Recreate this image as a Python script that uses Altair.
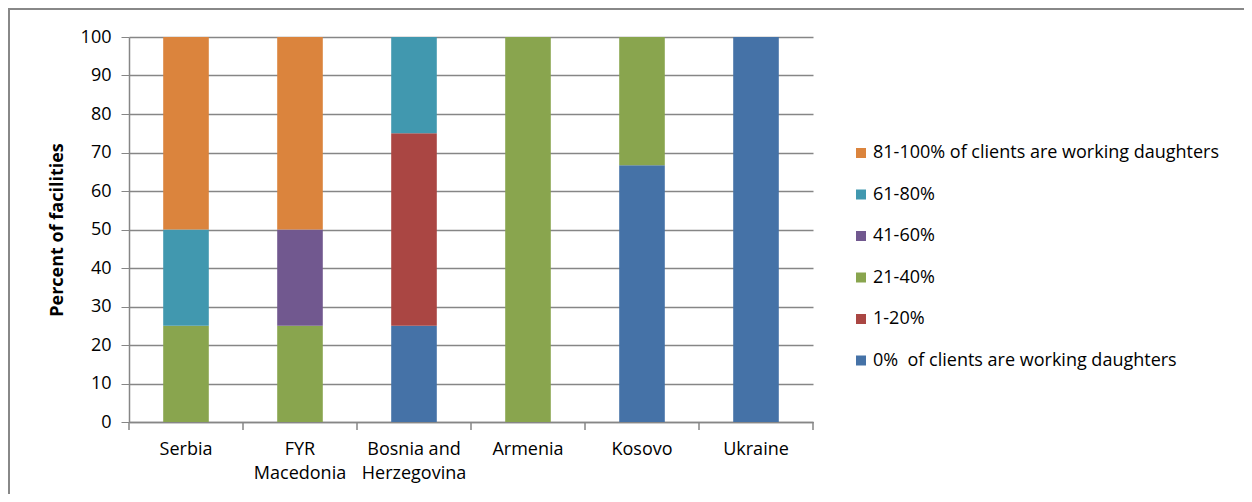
import altair as alt
import pandas as pd

categories = ["Serbia", "FYR\nMacedonia", "Bosnia and\nHerzegovina", "Armenia", "Kosovo", "Ukraine"]
series_names = [
    "0%\u00a0 of clients are working daughters",
    "1-20%",
    "21-40%",
    "41-60%",
    "61-80%",
    "81-100% of clients are working daughters",
]
s_0 = [0, 0, 25, 0, 66.7, 100]
s_1_20 = [0, 0, 50, 0, 0, 0]
s_21_40 = [25, 25, 0, 100, 33.3, 0]
s_41_60 = [0, 25, 0, 0, 0, 0]
s_61_80 = [25, 0, 25, 0, 0, 0]
s_81_100 = [50, 50, 0, 0, 0, 0]
series_values = [s_0, s_1_20, s_21_40, s_41_60, s_61_80, s_81_100]
colors = ["#4572A7", "#AA4643", "#89A54E", "#71588F", "#4198AF", "#DB843D"]

rows = []
for si, (name, vals) in enumerate(zip(series_names, series_values)):
    for c, v in zip(categories, vals):
        rows.append({"cat": c, "series": name, "value": v, "order": si})
df = pd.DataFrame(rows)

W, H = 684, 385
FONT = "Open Sans"
GRAY = "#868686"
FS = 18

xscale = alt.Scale(domain=categories, paddingInner=0, paddingOuter=0)

bars = alt.Chart(df).mark_bar(width=alt.RelativeBandSize(0.4)).encode(
    x=alt.X("cat:N", scale=xscale, sort=categories,
            axis=alt.Axis(title=None, labelAngle=0, ticks=False, domainColor=GRAY,
                          domainWidth=1.5, labelPadding=18, labelFontSize=FS,
                          labelLineHeight=24, labelColor="#000", labelFont=FONT,
                          labelExpr="split(datum.value, '\\n')")),
    y=alt.Y("value:Q", stack="zero", scale=alt.Scale(domain=[0, 100], nice=False),
            axis=alt.Axis(title="Percent of facilities", values=list(range(0, 101, 10)),
                          tickSize=8, tickColor=GRAY, domainColor=GRAY, domainWidth=1.5,
                          gridColor=GRAY, gridWidth=1.3, labelFontSize=FS, labelColor="#000",
                          labelFont=FONT, labelPadding=10, titleFont=FONT, titleFontSize=18,
                          titleFontWeight="bold", titleColor="#000", titlePadding=14)),
    color=alt.Color("series:N",
                    scale=alt.Scale(domain=series_names[::-1], range=colors[::-1]),
                    legend=alt.Legend(title=None, orient="none", legendX=723, legendY=107,
                                      padding=0, symbolType="square", symbolSize=100,
                                      symbolStrokeWidth=0, labelFontSize=FS, labelFont=FONT,
                                      labelColor="#000", labelLimit=500, rowPadding=23.5,
                                      labelOffset=3)),
    order=alt.Order("order:Q", sort="ascending"),
)

tick_df = pd.DataFrame({"cat": categories})
ticks_start = alt.Chart(tick_df).mark_rule(color=GRAY, strokeWidth=1.5).encode(
    x=alt.X("cat:N", scale=xscale, sort=categories, bandPosition=0),
    y=alt.value(H), y2=alt.value(H + 8),
)
ticks_end = alt.Chart(tick_df).transform_filter(
    alt.datum.cat == categories[-1]
).mark_rule(color=GRAY, strokeWidth=1.5).encode(
    x=alt.X("cat:N", scale=xscale, sort=categories, bandPosition=1),
    y=alt.value(H), y2=alt.value(H + 8),
)

border_left = alt.Chart(tick_df).mark_rule(color="#888888", strokeWidth=2).encode(
    x=alt.value(-120), y=alt.value(-29), y2=alt.value(470),
)
border_top = alt.Chart(tick_df).mark_rule(color="#888888", strokeWidth=2).encode(
    x=alt.value(-121), x2=alt.value(1120), y=alt.value(-28),
)

chart = alt.layer(bars, ticks_start, ticks_end, border_left, border_top).properties(
    width=W, height=H,
    autosize=alt.AutoSizeParams(type="none"),
    padding={"left": 121, "top": 29, "right": 431, "bottom": 72},
).configure_view(stroke=None)

chart.save("out.html", embed_options={"renderer": "svg", "actions": False})
